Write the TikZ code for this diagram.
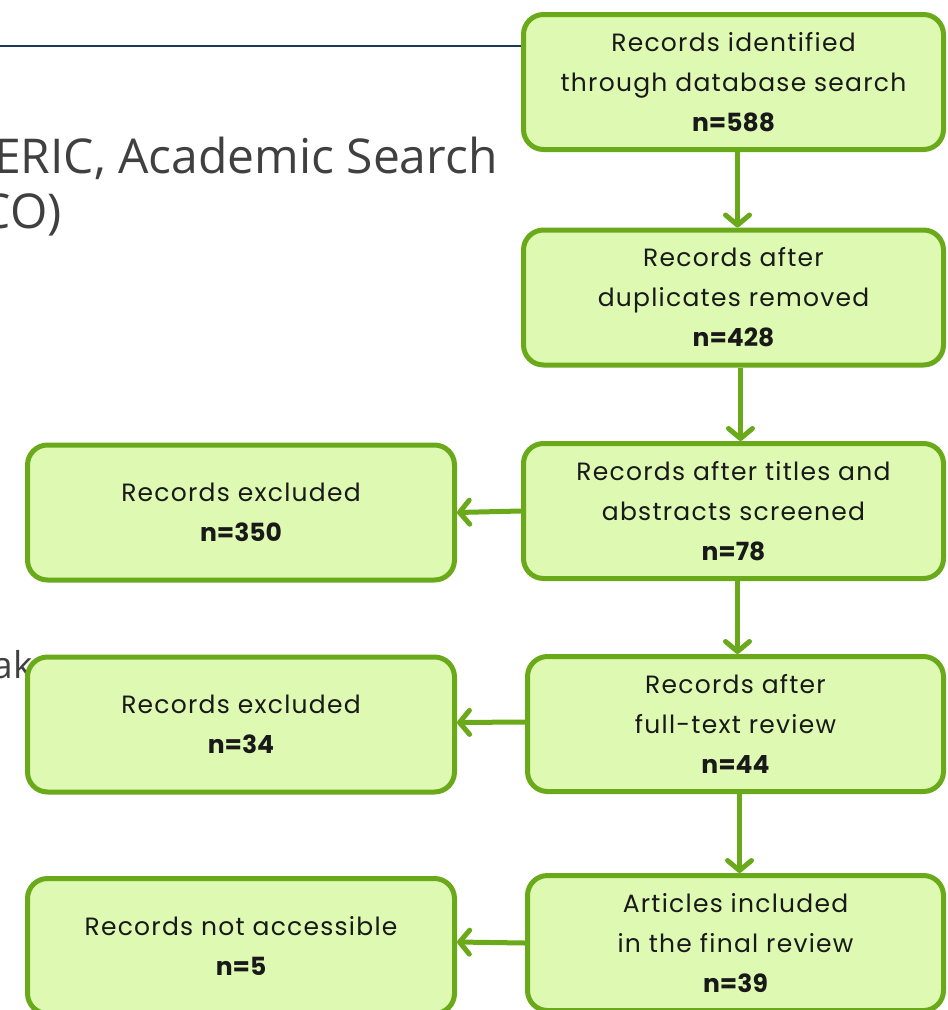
\documentclass[tikz,border=0pt]{standalone}
\usepackage{fontspec}
\usetikzlibrary{arrows.meta}
\newfontfamily\boxfont[LetterSpace=5]{Poppins}
\newfontfamily\numfont{Poppins}
\newfontfamily\slidefont{Open Sans}
\newcommand{\reccount}[1]{{\numfont\bfseries #1}}
\definecolor{boxfill}{RGB}{221,249,178}
\definecolor{boxline}{RGB}{106,170,26}
\definecolor{slidegray}{RGB}{64,64,64}
\definecolor{rulenavy}{RGB}{31,56,90}
\tikzset{every picture/.style={line width=0.75pt}}
\tikzset{
  flowbox/.style={draw=boxline, fill=boxfill, line width=5, rounded corners=20,
    minimum width=420, minimum height=135, align=center, text=black!90,
    font=\boxfont\fontsize{25}{40}\selectfont},
  sidebox/.style={flowbox, minimum width=427},
  flowarrow/.style={draw=boxline, line width=5, -{Straight Barb[round,length=10,width=24]}},
  slidetext/.style={text=slidegray, inner sep=0, font=\slidefont\fontsize{48}{55}\selectfont}
}

\begin{document}
\begin{tikzpicture}[x=1pt,y=1pt,yscale=-1,xscale=1]
\useasboundingbox (0,0) rectangle (948,1010);
\clip (0,0) rectangle (948,1010);

%Straight Lines [id:rule]
\draw [rulenavy, line width=2] (0,46) -- (522,46);

% Text Node
\node (txteric) [slidetext, anchor=base east] at (498,173) {ERIC, Academic Search};
% Text Node
\node (txtco) [slidetext, anchor=base east] at (62,228) {CO)};
% Text Node
\node (txtak) [slidetext, anchor=base east, font=\slidefont\fontsize{37}{44}\selectfont] at (33,678) {ak};

%Shape: Rounded Rect [id:identified]
\node (ident) [flowbox] at (733.5,82) {Records identified\\through database search\\\reccount{n=588}};
%Shape: Rounded Rect [id:duplicates]
\node (dupl) [flowbox] at (733.5,297.5) {Records after\\duplicates removed\\\reccount{n=428}};
%Shape: Rounded Rect [id:screened]
\node (screen) [flowbox] at (733.5,511) {Records after titles and\\abstracts screened\\\reccount{n=78}};
%Shape: Rounded Rect [id:fulltext]
\node (fulltxt) [flowbox, minimum width=416] at (735.5,724) {Records after\\full-text review\\\reccount{n=44}};
%Shape: Rounded Rect [id:included]
\node (incl) [flowbox, minimum width=416] at (735.5,943) {Articles included\\in the final review\\\reccount{n=39}};

%Shape: Rounded Rect [id:excluded1]
\node (excla) [sidebox] at (241,512.5) {Records excluded\\\reccount{n=350}};
%Shape: Rounded Rect [id:excluded2]
\node (exclb) [sidebox] at (241,724.5) {Records excluded\\\reccount{n=34}};
%Shape: Rounded Rect [id:notaccess]
\node (noacc) [sidebox] at (241,946) {Records not accessible\\\reccount{n=5}};

%Straight Lines [id:arrows down]
\draw [flowarrow] ([xshift=4]ident.south) -- ([xshift=4]dupl.north);
\draw [flowarrow] ([xshift=7]dupl.south) -- ([xshift=7]screen.north);
\draw [flowarrow] ([xshift=4]screen.south) -- ([xshift=2]fulltxt.north);
\draw [flowarrow] ([xshift=4]fulltxt.south) -- ([xshift=4]incl.north);
%Straight Lines [id:arrows left]
\draw [flowarrow] (screen.west) -- (excla.east);
\draw [flowarrow] ([yshift=-2]fulltxt.west) -- ([yshift=-2]exclb.east);
\draw [flowarrow] (incl.west) -- ([yshift=-4]noacc.east);

\end{tikzpicture}
\end{document}
